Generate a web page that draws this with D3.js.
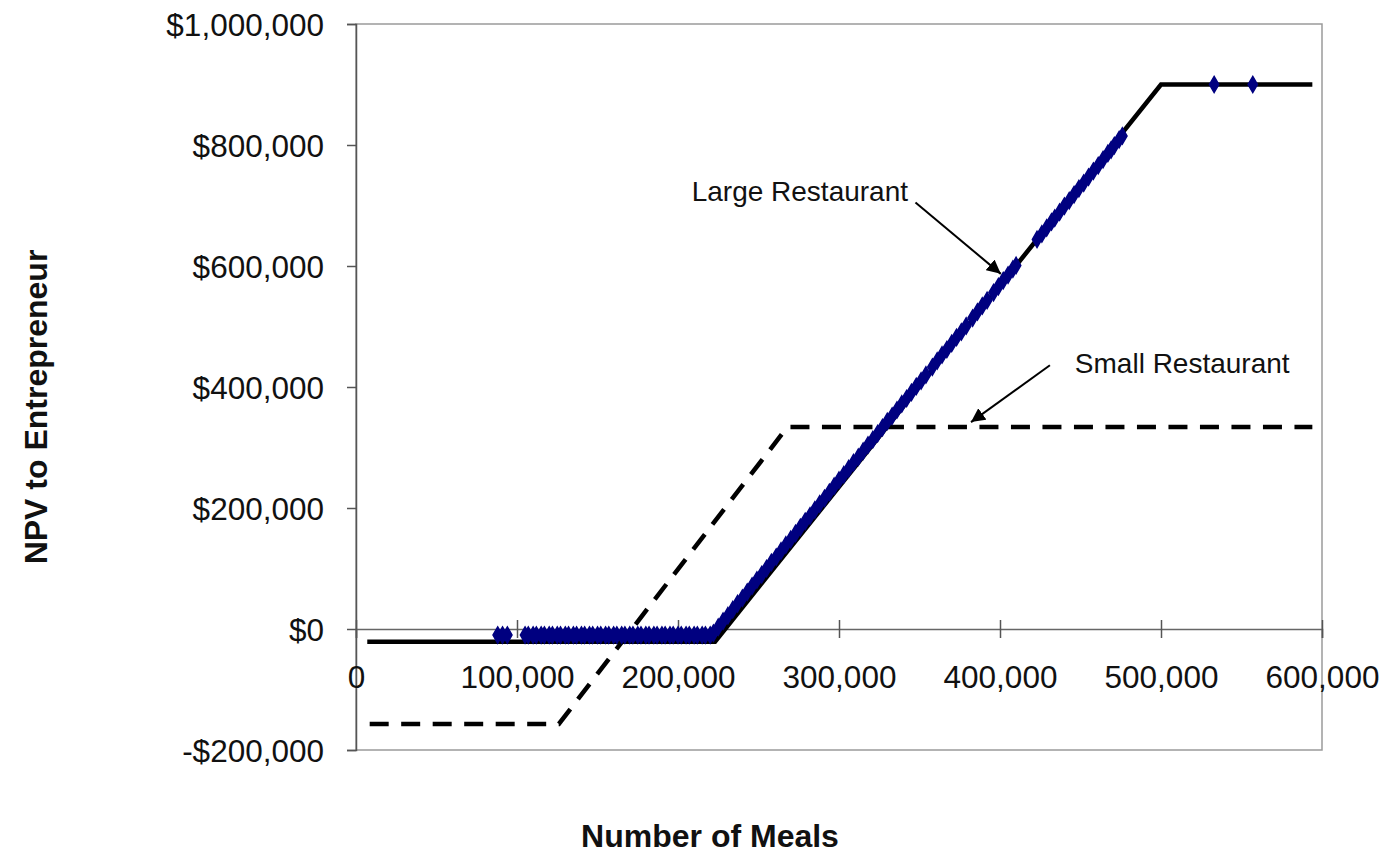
<!DOCTYPE html>
<html>
<head>
<meta charset="utf-8">
<script src="https://cdn.jsdelivr.net/npm/d3@7"></script>
<style>
  html, body { margin: 0; padding: 0; background: #fff; }
  svg { display: block; font-family: "Liberation Sans", Arial, sans-serif; }
</style>
</head>
<body>
<svg id="chart" width="1387" height="855"></svg>
<script>
// Break-even style payoff lines (NPV vs. number of meals served)
const largeMeals = [7000, 223000, 500000, 594000];
const largeNPV   = [-21000, -21000, 900000, 900000];

const smallMeals = [8500, 126000, 268000, 594000];
const smallNPV   = [-157000, -157000, 334000, 334000];

// Simulated outcomes for the large restaurant (meals, NPV)
const simMeals = [
  88000, 91000, 94000,
  105000, 107000, 110000, 112000, 115000, 117000, 120000, 122000, 125000, 127000,
  130000, 132000, 135000, 137000, 140000, 142000, 145000, 147000, 150000, 152000,
  155000, 157000, 160000, 162000, 165000, 167000, 170000, 172000, 175000, 177000,
  180000, 182000, 185000, 187000, 190000, 192000, 195000, 197000, 200000, 202000,
  205000, 207000, 210000, 212000, 215000, 217000, 220000,
  222000, 225000, 228000, 231000, 234000, 237000, 240000, 243000, 246000, 249000,
  252000, 255000, 258000, 261000, 264000, 267000, 270000, 273000, 276000, 279000,
  282000, 285000, 288000, 291000, 294000, 297000, 300000, 303000, 306000, 309000,
  312000, 315000, 318000, 321000, 324000, 327000, 330000, 333000, 336000, 339000,
  342000, 345000, 348000, 351000, 354000,
  358000, 361000, 364000, 367000, 370000, 373000, 376000,
  379000, 383000, 386000, 389000, 392000,
  396000, 399000, 402000, 405000, 408000, 410000,
  423000, 426000, 429000, 432000, 434000,
  437000, 440000, 443000,
  446000, 449000, 452000, 455000,
  458000, 461000, 464000,
  467000, 469000,
  471000, 474000, 476000,
  533000, 557000
];
const simNPV = [
  -10000, -10000, -10000,
  -10000, -10000, -10000, -10000, -10000, -10000, -10000, -10000, -10000, -10000,
  -10000, -10000, -10000, -10000, -10000, -10000, -10000, -10000, -10000, -10000,
  -10000, -10000, -10000, -10000, -10000, -10000, -10000, -10000, -10000, -10000,
  -10000, -10000, -10000, -10000, -10000, -10000, -10000, -10000, -10000, -10000,
  -10000, -10000, -10000, -10000, -10000, -10000, -10000,
  -7000, 3000, 13000, 22000, 32000, 42000, 51000, 61000, 71000, 81000,
  90000, 100000, 110000, 119000, 129000, 139000, 148000, 158000, 168000, 178000,
  187000, 197000, 207000, 216000, 226000, 236000, 246000, 255000, 265000, 275000,
  284000, 294000, 304000, 313000, 323000, 333000, 343000, 352000, 362000, 372000,
  381000, 391000, 401000, 410000, 420000,
  433000, 443000, 453000, 462000, 472000, 482000, 491000,
  501000, 514000, 524000, 534000, 543000,
  556000, 566000, 576000, 585000, 595000, 601000,
  644000, 653000, 663000, 673000, 679000,
  689000, 699000, 708000,
  718000, 728000, 737000, 747000,
  757000, 766000, 776000,
  786000, 792000,
  799000, 809000, 815000,
  900000, 900000
];

const xTicks = [0, 100000, 200000, 300000, 400000, 500000, 600000];
const xTickLabels = ["0", "100,000", "200,000", "300,000", "400,000", "500,000", "600,000"];
const yTicks = [-200000, 0, 200000, 400000, 600000, 800000, 1000000];
const yTickLabels = ["-$200,000", "$0", "$200,000", "$400,000", "$600,000", "$800,000", "$1,000,000"];

// Callout labels: text anchor and arrow from/to, in data units
const labelNames  = ["Large Restaurant", "Small Restaurant"];
const labelAt     = [[208500, 707000], [446500, 423000]];
const arrowFrom   = [[347500, 705000], [431000, 436000]];
const arrowTo     = [[400500, 587000], [382000, 342000]];

const svg = d3.select("#chart");
const plotLeft = 356, plotRight = 1322, plotTop = 24, plotBottom = 750;

const x = d3.scaleLinear().domain([0, 600000]).range([plotLeft, plotRight]);
const y = d3.scaleLinear().domain([-200000, 1000000]).range([plotBottom, plotTop]);

// plot area border
svg.append("rect")
  .attr("x", plotLeft).attr("y", plotTop)
  .attr("width", plotRight - plotLeft).attr("height", plotBottom - plotTop)
  .attr("fill", "none").attr("stroke", "#9a9a9a").attr("stroke-width", 1.5);

// y axis
const yAxis = d3.axisLeft(y).tickValues(yTicks)
  .tickFormat((d, i) => yTickLabels[i]).tickSize(9).tickPadding(23);
const gy = svg.append("g").attr("transform", `translate(${plotLeft},0)`).call(yAxis);
gy.select(".domain").attr("stroke", "#555").attr("stroke-width", 1.5);
gy.selectAll(".tick line").attr("stroke", "#555").attr("stroke-width", 1.5);
gy.selectAll(".tick text")
  .attr("font-size", 31.5).attr("fill", "#111")
  .attr("font-family", "'Liberation Sans', Arial, sans-serif")
  .attr("dy", "0.36em");

// x axis sits at NPV = 0 with ticks crossing it
const xAxis = d3.axisBottom(x).tickValues(xTicks)
  .tickFormat((d, i) => xTickLabels[i]).tickSize(9);
const gx = svg.append("g").attr("transform", `translate(0,${y(0)})`).call(xAxis);
gx.select(".domain").attr("stroke", "#666").attr("stroke-width", 1.5);
gx.selectAll(".tick line").attr("y1", -9).attr("y2", 9)
  .attr("stroke", "#555").attr("stroke-width", 1.5);
gx.selectAll(".tick text")
  .attr("font-size", 31.5).attr("fill", "#111")
  .attr("font-family", "'Liberation Sans', Arial, sans-serif")
  .attr("y", 59).attr("dy", 0);

const line = d3.line().x(d => x(d[0])).y(d => y(d[1]));

// small restaurant (dashed)
svg.append("path")
  .datum(smallMeals.map((m, i) => [m, smallNPV[i]]))
  .attr("d", line).attr("fill", "none")
  .attr("stroke", "#000").attr("stroke-width", 4.5)
  .attr("stroke-dasharray", "19,12.5");

// large restaurant (solid)
svg.append("path")
  .datum(largeMeals.map((m, i) => [m, largeNPV[i]]))
  .attr("d", line).attr("fill", "none")
  .attr("stroke", "#000").attr("stroke-width", 4.5)
  .attr("stroke-linejoin", "miter");

// simulated points as diamonds
const diamond = d3.symbol().type(d3.symbolDiamond).size(76);
svg.append("g").selectAll("path")
  .data(simMeals.map((m, i) => [m, simNPV[i]]))
  .join("path")
  .attr("d", diamond)
  .attr("transform", d => `translate(${x(d[0])},${y(d[1])})`)
  .attr("fill", "#000080").attr("stroke", "#000080").attr("stroke-width", 1.5);

// callouts
svg.append("defs").append("marker")
  .attr("id", "arrowhead").attr("viewBox", "0 0 10 10")
  .attr("refX", 10).attr("refY", 5)
  .attr("markerWidth", 7).attr("markerHeight", 7)
  .attr("markerUnits", "strokeWidth")
  .attr("orient", "auto")
  .append("path").attr("d", "M0,0 L10,5 L0,10 Z").attr("fill", "#000");

labelNames.forEach((name, i) => {
  svg.append("text")
    .attr("x", x(labelAt[i][0])).attr("y", y(labelAt[i][1]))
    .attr("font-size", 28).attr("fill", "#111")
    .text(name);
  svg.append("line")
    .attr("x1", x(arrowFrom[i][0])).attr("y1", y(arrowFrom[i][1]))
    .attr("x2", x(arrowTo[i][0])).attr("y2", y(arrowTo[i][1]))
    .attr("stroke", "#000").attr("stroke-width", 2)
    .attr("marker-end", "url(#arrowhead)");
});

// axis titles
svg.append("text")
  .attr("transform", "translate(47,407) rotate(-90)")
  .attr("text-anchor", "middle")
  .attr("font-size", 32).attr("font-weight", "bold").attr("fill", "#111")
  .text("NPV to Entrepreneur");

svg.append("text")
  .attr("x", 710).attr("y", 847)
  .attr("text-anchor", "middle")
  .attr("font-size", 32).attr("font-weight", "bold").attr("fill", "#111")
  .text("Number of Meals");
</script>
</body>
</html>
